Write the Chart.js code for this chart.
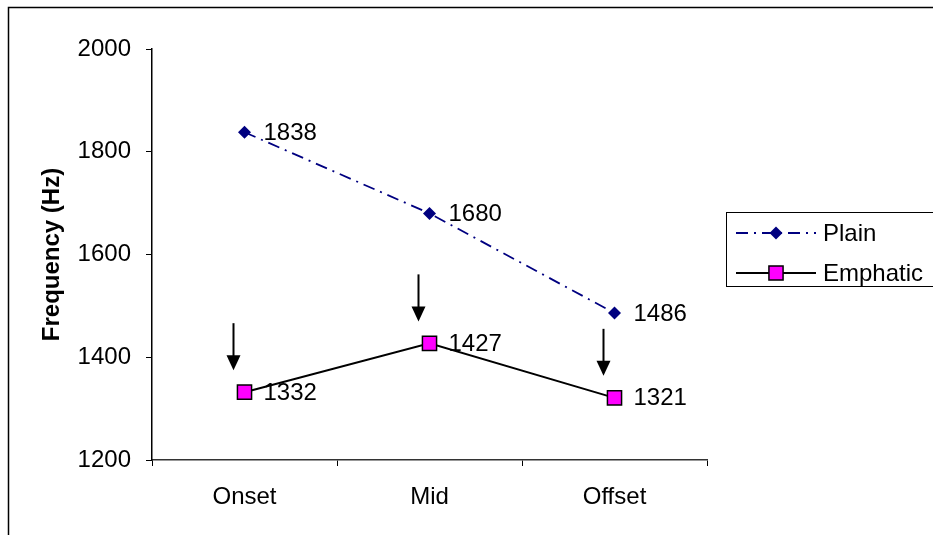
<!DOCTYPE html>
<html lang="en">
<script src="https://cdn.jsdelivr.net/npm/chart.js@4.4.1/dist/chart.umd.min.js"></script>
  <head>
    <meta charset="UTF-8" />
    <title>Formant frequency - Plain vs Emphatic</title>
	<style>
		html, body { margin:0; padding:0; background:#FFFFFF; }
		#freq_chart { display:block; }
	</style>
  </head>
  <body>
	<div style="width:933px;height:535px;">
	<canvas id="freq_chart" width="933" height="535"></canvas>
	</div>

	<script>
	// positions along the vowel
	const positions = ['Onset', 'Mid', 'Offset'];
	// measured frequency in Hz
	const plainHz = [1838, 1680, 1486];
	const emphaticHz = [1332, 1427, 1321];
	const yTicks = [1200, 1400, 1600, 1800, 2000];

	const FONT = 'Arial, "Liberation Sans", sans-serif';

	//Value labels, arrows, legend and frame
	const extras = {
		id: 'extras',
		afterDatasetsDraw(chart) {
			const ctx = chart.ctx;
			ctx.save();
			ctx.font = '24px ' + FONT;
			ctx.fillStyle = '#000';
			ctx.textAlign = 'left';
			ctx.textBaseline = 'middle';
			chart.data.datasets.forEach((ds, di) => {
				chart.getDatasetMeta(di).data.forEach((pt, i) => {
					ctx.fillText(String(ds.data[i]), pt.x + 19, pt.y + 1);
				});
			});

			// arrows pointing at the emphatic points
			ctx.strokeStyle = '#000';
			ctx.fillStyle = '#000';
			ctx.lineWidth = 2;
			chart.getDatasetMeta(1).data.forEach((pt) => {
				const x = pt.x - 11;
				const tip = pt.y - 22;
				ctx.beginPath();
				ctx.moveTo(x, tip - 47);
				ctx.lineTo(x, tip - 12);
				ctx.stroke();
				ctx.beginPath();
				ctx.moveTo(x - 7, tip - 15);
				ctx.lineTo(x + 7, tip - 15);
				ctx.lineTo(x, tip);
				ctx.closePath();
				ctx.fill();
			});

			// legend
			ctx.lineWidth = 1;
			ctx.strokeStyle = '#000';
			ctx.strokeRect(726.5, 212.5, 220, 74);
			chart.data.datasets.forEach((ds, di) => {
				const y = 233 + di * 40;
				ctx.save();
				ctx.strokeStyle = ds.borderColor;
				ctx.lineWidth = ds.borderWidth;
				ctx.setLineDash(ds.borderDash || []);
				ctx.beginPath();
				ctx.moveTo(736, y);
				ctx.lineTo(816, y);
				ctx.stroke();
				ctx.restore();
				ctx.save();
				ctx.fillStyle = ds.pointBackgroundColor;
				ctx.strokeStyle = ds.pointBorderColor || ds.pointBackgroundColor;
				ctx.lineWidth = ds.pointBorderWidth;
				Chart.helpers.drawPoint(ctx, {
					pointStyle: ds.pointStyle,
					radius: ds.pointRadius,
					borderWidth: ds.pointBorderWidth
				}, 776, y);
				ctx.restore();
				ctx.fillStyle = '#000';
				ctx.fillText(ds.label, 823, y + 1);
			});

			// outer frame
			ctx.strokeStyle = '#000';
			ctx.lineWidth = 1.5;
			ctx.strokeRect(8.5, 7.5, 940, 540);
			ctx.restore();
		}
	};

	let fChart = new Chart(document.getElementById('freq_chart'), {
		type: 'line',
		data: {
			labels: positions,
			datasets: [{
				label: 'Plain',
				data: plainHz,
				borderColor: '#000080',
				borderWidth: 1.8,
				borderDash: [12, 6, 2, 6],
				backgroundColor: '#000080',
				pointStyle: 'rectRot',
				pointRadius: 6.5,
				pointBorderWidth: 0,
				pointBackgroundColor: '#000080',
				tension: 0
			}, {
				label: 'Emphatic',
				data: emphaticHz,
				borderColor: '#000000',
				borderWidth: 2,
				backgroundColor: '#FF00FF',
				pointStyle: 'rect',
				pointRadius: 10,
				pointBorderWidth: 1.5,
				pointBorderColor: '#000000',
				pointBackgroundColor: '#FF00FF',
				tension: 0
			}]
		},
		options: {
			responsive: false,
			animation: false,
			layout: { padding: { left: 0, top: 49, right: 226, bottom: 0 } },
			scales: {
				x: {
					offset: true,
					afterFit: (s) => { s.height = 75; },
					grid: { offset: true, drawOnChartArea: false, drawTicks: true, tickLength: 6, color: '#000' },
					border: { display: true, color: '#333', width: 1.5 },
					ticks: { color: '#000', font: { family: FONT, size: 24 }, padding: 17, maxRotation: 0 }
				},
				y: {
					min: 1200,
					max: 2000,
					afterFit: (s) => { s.width = 152; },
					afterBuildTicks: (s) => { s.ticks = yTicks.map(v => ({ value: v })); },
					grid: { drawOnChartArea: false, drawTicks: true, tickLength: 6, color: '#000' },
					border: { display: true, color: '#000', width: 1.5 },
					ticks: {
						color: '#000',
						font: { family: FONT, size: 24 },
						padding: 15,
						callback: (v) => String(v)
					},
					title: {
						display: true,
						text: 'Frequency (Hz)',
						color: '#000',
						font: { family: FONT, size: 24, weight: 'bold' },
						padding: { top: 38, bottom: 0 }
					}
				}
			},
			plugins: {
				legend: { display: false },
				tooltip: { enabled: false }
			}
		},
		plugins: [extras]
	});
	</script>
  </body>
</html>
